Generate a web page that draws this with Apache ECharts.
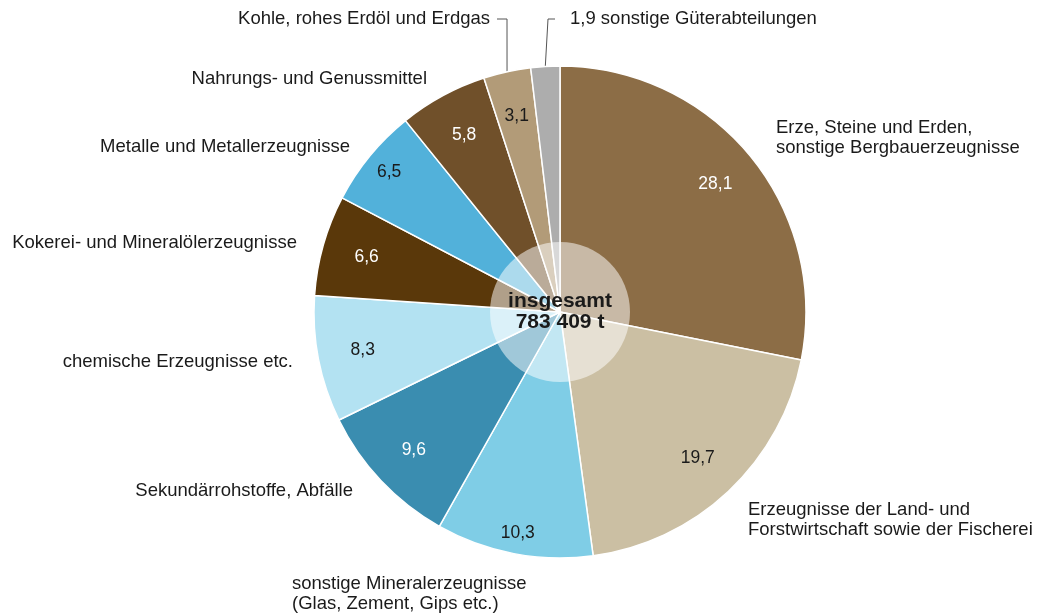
<!DOCTYPE html>
<html>
<head>
<meta charset="utf-8">
<script src="https://cdn.jsdelivr.net/npm/echarts@6/dist/echarts.min.js"></script>
<style>
  html, body { margin: 0; padding: 0; background: #fff; }
  #chart { width: 1037px; height: 616px; }
</style>
</head>
<body>
<div id="chart"></div>
<script>
const categories = [
  'Erze, Steine und Erden,\nsonstige Bergbauerzeugnisse',
  'Erzeugnisse der Land- und\nForstwirtschaft sowie der Fischerei',
  'sonstige Mineralerzeugnisse\n(Glas, Zement, Gips etc.)',
  'Sekundärrohstoffe, Abfälle',
  'chemische Erzeugnisse etc.',
  'Kokerei- und Mineralölerzeugnisse',
  'Metalle und Metallerzeugnisse',
  'Nahrungs- und Genussmittel',
  'Kohle, rohes Erdöl und Erdgas',
  'sonstige Güterabteilungen'
]
const shares = [28.1, 19.7, 10.3, 9.6, 8.3, 6.6, 6.5, 5.8, 3.1, 1.9]
const colors = [
  '#8c6d46', '#cbbfa3', '#7fcde6', '#3a8db0', '#b3e2f2',
  '#5a380a', '#52b1da', '#70502a', '#b29b78', '#adadad'
]
const valueTextColors = [
  '#fff', '#1a1a1a', '#1a1a1a', '#fff', '#1a1a1a',
  '#fff', '#1a1a1a', '#fff', '#1a1a1a', '#1a1a1a'
]
// which slices show their value inside (1,9 goes into the outer label)
const showValueInside = [true, true, true, true, true, true, true, true, true, false]
const totalLabel = 'insgesamt\n783 409 t'

// outer label anchors: [x, y, align]
const labelPos = [
  [776, 138, 'left'],
  [748, 520, 'left'],
  [292, 594, 'left'],
  [353, 491, 'right'],
  [293, 362, 'right'],
  [297, 243, 'right'],
  [350, 147, 'right'],
  [427, 79, 'right'],
  [497, 19, 'right'],
  [555, 19, 'left']
]
// radial push of the inner value labels (1 = ring middle)
const valuePush = [1, 1, 1.12, 1, 1, 1, 1.1, 1, 1, 1]

const CX = 560
const CY = 312
const fmt = v => String(v).replace('.', ',')
const textColor = '#1a1a1a'
const font = 'Liberation Sans, Arial, Helvetica, sans-serif'

const chart = echarts.init(document.getElementById('chart'), null, { renderer: 'canvas' })

const mainData = categories.map((name, i) => {
  const item = {
    name: name,
    value: shares[i],
    itemStyle: { color: colors[i] }
  }
  if (i === 8) {
    item.labelLine = { show: true, length2: 10 }
    item.label = { padding: [0, 7, 0, 0], backgroundColor: 'rgba(0,0,0,0)' }
  }
  if (i === 9) {
    item.labelLine = { show: true, length2: 7 }
    item.label = {
      padding: [0, 0, 0, 15],
      backgroundColor: 'rgba(0,0,0,0)',
      formatter: fmt(shares[i]) + ' ' + name
    }
  }
  return item
})

const valueData = shares.map((v, i) => ({
  name: categories[i],
  value: v,
  label: { show: showValueInside[i], color: valueTextColors[i] }
}))

const option = {
  animation: false,
  backgroundColor: '#fff',
  textStyle: { fontFamily: font },
  series: [
    {
      type: 'pie',
      center: [CX, CY],
      radius: [0, 246],
      startAngle: 90,
      clockwise: true,
      avoidLabelOverlap: false,
      silent: true,
      itemStyle: { borderColor: '#fff', borderWidth: 1.5 },
      label: {
        show: true,
        position: 'outside',
        formatter: '{b}',
        color: textColor,
        fontSize: 18.5,
        lineHeight: 19.5,
        fontFamily: font
      },
      labelLine: {
        show: false,
        lineStyle: { color: '#555', width: 1 }
      },
      labelLayout: function (params) {
        const p = labelPos[params.dataIndex]
        return { x: p[0], y: p[1], align: p[2], verticalAlign: 'middle' }
      },
      data: mainData
    },
    {
      type: 'pie',
      center: [CX, CY],
      radius: [150, 246],
      startAngle: 90,
      clockwise: true,
      silent: true,
      itemStyle: { color: 'rgba(0,0,0,0)' },
      label: {
        position: 'inside',
        formatter: p => fmt(p.value),
        fontSize: 17.5,
        fontFamily: font
      },
      labelLine: { show: false },
      labelLayout: function (params) {
        const r = params.labelRect
        const k = valuePush[params.dataIndex] - 1
        const cx = r.x + r.width / 2
        const cy = r.y + r.height / 2
        return { dx: (cx - CX) * k, dy: (cy - CY) * k }
      },
      data: valueData
    },
    {
      type: 'pie',
      center: [CX, CY],
      radius: [0, 70],
      silent: true,
      itemStyle: { color: 'rgba(255,255,255,0.52)' },
      label: {
        position: 'center',
        formatter: totalLabel,
        fontSize: 21,
        lineHeight: 21,
        fontWeight: 'bold',
        color: textColor,
        fontFamily: font
      },
      labelLine: { show: false },
      data: [{ value: 1, name: 'insgesamt' }]
    }
  ]
}

chart.setOption(option)
</script>
</body>
</html>
